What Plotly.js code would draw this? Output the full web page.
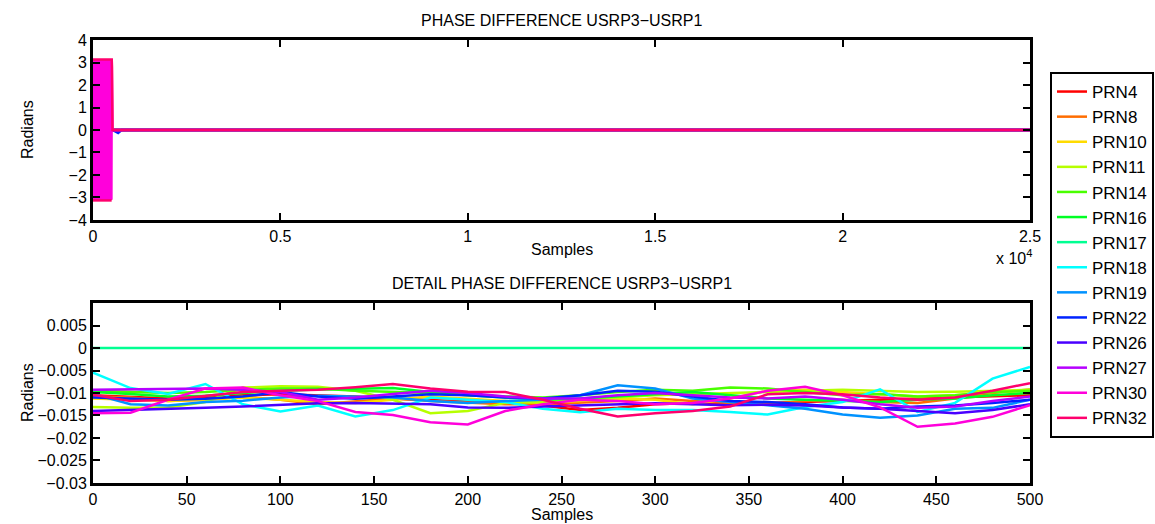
<!DOCTYPE html>
<html>
<head>
<meta charset="utf-8">
<script src="https://cdn.plot.ly/plotly-3.0.1.min.js"></script>
<style>
html,body{margin:0;padding:0;background:#fff;}
#chart{width:1155px;height:524px;}
</style>
</head>
<body>
<div id="chart"></div>
<script>
// ---- series names and colours ----
const names = ["PRN4","PRN8","PRN10","PRN11","PRN14","PRN16","PRN17","PRN18","PRN19","PRN22","PRN26","PRN27","PRN30","PRN32"];
const colors = ["#ff0000","#ff6d00","#ffdb00","#b6ff00","#49ff00","#00ff24","#00ff92","#00ffff","#0092ff","#0024ff","#4900ff","#b600ff","#ff00db","#ff006d"];

// ---- detail panel: samples ----
const detailX = [0,20,40,60,80,100,120,140,160,180,200,220,240,260,280,300,320,340,360,380,400,420,440,460,480,500];

const prn4  = [-0.0105,-0.0108,-0.0112,-0.0110,-0.0105,-0.0103,-0.0105,-0.0108,-0.0112,-0.0115,-0.0118,-0.0122,-0.0128,-0.0138,-0.0133,-0.0125,-0.0122,-0.0125,-0.0122,-0.0120,-0.0118,-0.0115,-0.0112,-0.0110,-0.0108,-0.0105];
const prn8  = [-0.0108,-0.0110,-0.0118,-0.0115,-0.0108,-0.0115,-0.0125,-0.0118,-0.0112,-0.0118,-0.0122,-0.0125,-0.0125,-0.0122,-0.0118,-0.0112,-0.0118,-0.0122,-0.0125,-0.0118,-0.0115,-0.0120,-0.0122,-0.0112,-0.0100,-0.0092];
const prn10 = [-0.0112,-0.0115,-0.0118,-0.0115,-0.0110,-0.0115,-0.0120,-0.0122,-0.0115,-0.0108,-0.0113,-0.0118,-0.0122,-0.0118,-0.0112,-0.0115,-0.0125,-0.0112,-0.0095,-0.0093,-0.0098,-0.0102,-0.0108,-0.0105,-0.0098,-0.0095];
const prn11 = [-0.0131,-0.0133,-0.0132,-0.0120,-0.0088,-0.0085,-0.0086,-0.0095,-0.0115,-0.0145,-0.0140,-0.0122,-0.0120,-0.0115,-0.0110,-0.0105,-0.0103,-0.0100,-0.0098,-0.0095,-0.0093,-0.0095,-0.0098,-0.0097,-0.0095,-0.0093];
const prn14 = [-0.0095,-0.0098,-0.0100,-0.0098,-0.0093,-0.0090,-0.0090,-0.0095,-0.0098,-0.0100,-0.0105,-0.0108,-0.0110,-0.0105,-0.0098,-0.0093,-0.0095,-0.0088,-0.0090,-0.0098,-0.0105,-0.0102,-0.0108,-0.0105,-0.0098,-0.0095];
const prn16 = [-0.0098,-0.0102,-0.0108,-0.0106,-0.0100,-0.0095,-0.0092,-0.0090,-0.0089,-0.0098,-0.0105,-0.0110,-0.0115,-0.0112,-0.0108,-0.0103,-0.0098,-0.0105,-0.0112,-0.0115,-0.0118,-0.0120,-0.0115,-0.0112,-0.0105,-0.0100];
const prn17 = [0,0,0,0,0,0,0,0,0,0,0,0,0,0,0,0,0,0,0,0,0,0,0,0,0,0];
const prn18 = [-0.0055,-0.0089,-0.0102,-0.0080,-0.0125,-0.0141,-0.0128,-0.0152,-0.0138,-0.0110,-0.0115,-0.0120,-0.0135,-0.0143,-0.0135,-0.0138,-0.0138,-0.0142,-0.0148,-0.0131,-0.0120,-0.0092,-0.0142,-0.0122,-0.0068,-0.0042];
const prn19 = [-0.0102,-0.0125,-0.0128,-0.0120,-0.0117,-0.0110,-0.0106,-0.0108,-0.0110,-0.0118,-0.0122,-0.0118,-0.0115,-0.0105,-0.0083,-0.0090,-0.0112,-0.0120,-0.0128,-0.0135,-0.0148,-0.0155,-0.0150,-0.0135,-0.0133,-0.0115];
const prn22 = [-0.0110,-0.0112,-0.0115,-0.0113,-0.0108,-0.0098,-0.0108,-0.0113,-0.0108,-0.0103,-0.0105,-0.0110,-0.0112,-0.0105,-0.0095,-0.0097,-0.0108,-0.0118,-0.0120,-0.0125,-0.0132,-0.0135,-0.0130,-0.0128,-0.0122,-0.0115];
const prn26 = [-0.0140,-0.0138,-0.0135,-0.0133,-0.0130,-0.0127,-0.0123,-0.0122,-0.0123,-0.0125,-0.0132,-0.0133,-0.0130,-0.0128,-0.0125,-0.0123,-0.0125,-0.0127,-0.0126,-0.0128,-0.0132,-0.0135,-0.0140,-0.0145,-0.0138,-0.0125];
const prn27 = [-0.0093,-0.0092,-0.0090,-0.0090,-0.0093,-0.0098,-0.0115,-0.0110,-0.0102,-0.0095,-0.0100,-0.0108,-0.0112,-0.0112,-0.0105,-0.0100,-0.0105,-0.0110,-0.0112,-0.0108,-0.0115,-0.0125,-0.0133,-0.0130,-0.0118,-0.0108];
const prn30 = [-0.0145,-0.0144,-0.0115,-0.0090,-0.0088,-0.0105,-0.0118,-0.0142,-0.0149,-0.0165,-0.0170,-0.0140,-0.0125,-0.0115,-0.0118,-0.0125,-0.0122,-0.0112,-0.0095,-0.0086,-0.0105,-0.0132,-0.0175,-0.0168,-0.0153,-0.0127];
const prn32 = [-0.0104,-0.0118,-0.0115,-0.0106,-0.0098,-0.0095,-0.0093,-0.0087,-0.0080,-0.0090,-0.0097,-0.0098,-0.0115,-0.0135,-0.0152,-0.0145,-0.0140,-0.0130,-0.0103,-0.0100,-0.0103,-0.0110,-0.0115,-0.0110,-0.0095,-0.0078];
const detailSeries = [prn4,prn8,prn10,prn11,prn14,prn16,prn17,prn18,prn19,prn22,prn26,prn27,prn30,prn32];

// ---- full panel (samples, radians) ----
const burstX = [0,11,24,36,47,60,71,84,95,108,120,131,144,156,167,180,192,203,216,228,239,252,264,275,288,300,311,324,336,347,360,372,383,396,408,419,432,444,455,468,480,491,500];
const burstY = [3.12,-3.10,3.08,-3.13,3.11,-3.09,3.13,-3.12,3.10,-3.11,3.12,-3.13,3.09,-3.10,3.13,-3.12,3.11,-3.09,3.12,-3.13,3.10,-3.11,3.13,-3.10,3.09,-3.12,3.12,-3.13,3.11,-3.10,3.13,-3.12,3.10,-3.09,3.12,-3.13,3.11,-3.12,3.10,-3.11,3.13,-3.10,3.12];
const edgeX = [0,500,506,512,520];
const edgeY = [3.13,3.13,2.80,0.20,0.0];
const edgeLowX = [0,498];
const edgeLowY = [-3.13,-3.13];
const tailX = [520,25000];
const tailY = [0,0];
const blipX = [520,600,670,760,25000];
const blipY = [0,-0.06,-0.13,0,0];

const LW = 2.5;
const traces = [];
// top panel traces
for (let i = 0; i < names.length; i++) {
  let x = tailX, y = tailY;
  if (names[i] === "PRN22") { x = blipX; y = blipY; }
  if (names[i] === "PRN30") { x = burstX.concat(tailX); y = burstY.concat(tailY); }
  traces.push({x: x, y: y, type: "scatter", mode: "lines", xaxis: "x", yaxis: "y",
    line: {color: colors[i], width: LW}, name: names[i], showlegend: false, hoverinfo: "skip"});
}
traces.push({x: edgeX.concat(tailX), y: edgeY.concat(tailY), type: "scatter", mode: "lines", xaxis: "x", yaxis: "y",
  line: {color: colors[13], width: LW}, name: "PRN32", showlegend: false});
traces.push({x: edgeLowX, y: edgeLowY, type: "scatter", mode: "lines", xaxis: "x", yaxis: "y",
  line: {color: colors[13], width: LW}, name: "PRN32", showlegend: false});
// bottom panel traces
for (let i = 0; i < names.length; i++) {
  traces.push({x: detailX, y: detailSeries[i], type: "scatter", mode: "lines", xaxis: "x2", yaxis: "y2",
    line: {color: colors[i], width: LW}, name: names[i], showlegend: true});
}

const F = "Liberation Sans, Arial, Helvetica, sans-serif";
const FS = 16;
const axisCommon = {
  showline: true, linecolor: "#000", linewidth: 3, mirror: "ticks",
  ticks: "inside", ticklen: 7, tickwidth: 2, tickcolor: "#000",
  showgrid: false, zeroline: false, tickfont: {family: F, size: FS, color: "#000"},
  fixedrange: true
};
const topTickVals = [0,5000,10000,15000,20000,25000];
const topTickText = ["0","0.5","1","1.5","2","2.5"];
const botYVals = [-0.03,-0.025,-0.02,-0.015,-0.01,-0.005,0,0.005];
const botYText = ["\u22120.03","\u22120.025","\u22120.02","\u22120.015","\u22120.01","\u22120.005","0","0.005"];

const layout = {
  width: 1155, height: 524,
  margin: {l: 93, r: 125, t: 40, b: 41, autoexpand: false},
  paper_bgcolor: "#fff", plot_bgcolor: "#fff",
  font: {family: F, size: FS, color: "#000"},
  showlegend: true,
  legend: {x: (1050-93)/937, y: (483-72)/443, xanchor: "left", yanchor: "top",
    bordercolor: "#000", borderwidth: 2, bgcolor: "#fff",
    font: {family: F, size: 17, color: "#000"}, traceorder: "normal"},
  xaxis: Object.assign({}, axisCommon, {domain: [0,1], anchor: "y", range: [0,25000],
    tickmode: "array", tickvals: topTickVals, ticktext: topTickText}),
  yaxis: Object.assign({}, axisCommon, {domain: [0.5937,1], anchor: "x", range: [-4,4],
    tickmode: "array", tickvals: [-4,-3,-2,-1,0,1,2,3,4]}),
  xaxis2: Object.assign({}, axisCommon, {domain: [0,1], anchor: "y2", range: [0,500],
    tickmode: "array", tickvals: [0,50,100,150,200,250,300,350,400,450,500]}),
  yaxis2: Object.assign({}, axisCommon, {domain: [0,0.4063], anchor: "x2", range: [-0.03,0.01],
    tickmode: "array", tickvals: botYVals, ticktext: botYText}),
  annotations: [
    {text: "PHASE DIFFERENCE USRP3\u2212USRP1", xref: "paper", yref: "paper", x: 0.5, y: (483-20)/443, xanchor: "center", yanchor: "middle", showarrow: false, font: {family: F, size: FS}},
    {text: "DETAIL PHASE DIFFERENCE USRP3\u2212USRP1", xref: "paper", yref: "paper", x: 0.5, y: (483-283)/443, xanchor: "center", yanchor: "middle", showarrow: false, font: {family: F, size: FS}},
    {text: "Samples", xref: "paper", yref: "paper", x: 0.5, y: (483-249)/443, xanchor: "center", yanchor: "middle", showarrow: false, font: {family: F, size: FS}},
    {text: "Samples", xref: "paper", yref: "paper", x: 0.5, y: (483-514)/443, xanchor: "center", yanchor: "middle", showarrow: false, font: {family: F, size: FS}},
    {text: "Radians", xref: "paper", yref: "paper", x: (27-93)/937, y: (483-130)/443, xanchor: "center", yanchor: "middle", textangle: -90, showarrow: false, font: {family: F, size: FS}},
    {text: "Radians", xref: "paper", yref: "paper", x: (27-93)/937, y: (483-393)/443, xanchor: "center", yanchor: "middle", textangle: -90, showarrow: false, font: {family: F, size: FS}},
    {text: "x 10<sup>4</sup>", xref: "paper", yref: "paper", x: (1034-93)/937, y: (483-257)/443, xanchor: "right", yanchor: "middle", showarrow: false, font: {family: F, size: FS}}
  ]
};

Plotly.newPlot("chart", traces, layout, {staticPlot: true, displayModeBar: false});
</script>
</body>
</html>
